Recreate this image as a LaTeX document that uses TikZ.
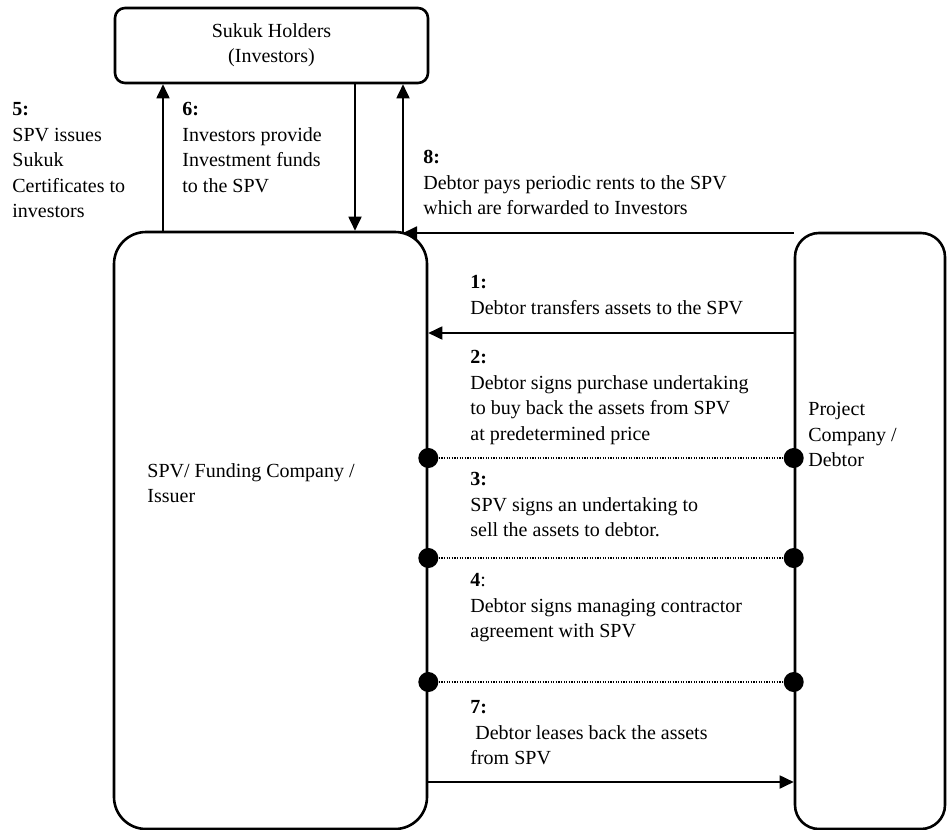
\documentclass[tikz,border=0pt]{standalone}
\usepackage{fontspec}
\setmainfont{Liberation Serif}
\usetikzlibrary{arrows.meta, positioning}

\begin{document}
\begin{tikzpicture}[x=0.5pt, y=-0.5pt,
    roundBox/.style={draw, line width=1.3pt, rounded corners=#1, inner sep=0pt},
    flowArrow/.style={line width=0.9pt, -{Triangle[length=7pt, width=6.5pt]}},
    stepText/.style={anchor=north west, align=left, inner sep=0pt,
      font=\fontsize{10}{12.8}\selectfont},
    dotLine/.style={line width=0.7pt, dash pattern=on 0.6pt off 0.7pt}]
    \useasboundingbox (0,0) rectangle (948,830);

    % cajas
    \node[roundBox=5pt, minimum width=156.5pt, minimum height=37.5pt, align=center,
      font=\fontsize{10}{12.5}\selectfont] (sukuk) at (271.5,45.5)
      {Sukuk Holders\\(Investors)};
    \node[roundBox=16pt, minimum width=156.5pt, minimum height=298.5pt] (spv) at (270.5,530.5) {};
    \node[roundBox=12pt, minimum width=75pt, minimum height=298pt] (proj) at (870,531) {};
    \node[stepText] (spvTxt) at (147,463) {SPV/ Funding Company /\\Issuer};
    \node[stepText] (projTxt) at (808,402) {Project\\Company /\\Debtor};

    % emision, fondos y rentas
    \coordinate (c5) at (163,0);
    \coordinate (c6) at (355,0);
    \coordinate (c8) at (403,233);
    \draw[flowArrow] (c5 |- spv.north) -- (c5 |- sukuk.south);
    \draw[flowArrow] (c6 |- sukuk.south) -- (c6 |- spv.north);
    \draw[flowArrow] (proj.west |- c8) -- (c8);
    \draw[flowArrow] (c8) -- (c8 |- sukuk.south);

    \node[stepText] (t5) at (12,102) {\textbf{5:}\\SPV issues\\Sukuk\\Certificates to\\investors};
    \node[stepText] (t6) at (182,102) {\textbf{6:}\\Investors provide\\Investment funds\\to the SPV};
    \node[stepText] (t8) at (423,150)
      {\textbf{8:}\\Debtor pays periodic rents to the SPV\\which are forwarded to Investors};

    % flujos entre deudor y SPV
    \coordinate (r1) at (0,333);
    \coordinate (r7) at (0,782);
    \draw[flowArrow] (proj.west |- r1) -- (spv.east |- r1);
    \draw[flowArrow] (spv.east |- r7) -- (proj.west |- r7);

    \foreach \y [count=\i] in {458,558,682} {
      \coordinate (d\i) at (0,\y);
      \draw[dotLine] (spv.east |- d\i) -- (proj.west |- d\i);
      \fill (spv.east |- d\i) circle[radius=5pt];
      \fill (proj.west |- d\i) circle[radius=5pt];
    }

    \node[stepText] (t1) at (470,275) {\textbf{1:}\\Debtor transfers assets to the SPV};
    \node[stepText] (t2) at (470,350)
      {\textbf{2:}\\Debtor signs purchase undertaking\\to buy back the assets from SPV\\at predetermined price};
    \node[stepText] (t3) at (470,472) {\textbf{3:}\\SPV signs an undertaking to\\sell the assets to debtor.};
    \node[stepText] (t4) at (470,573) {\textbf{4}:\\Debtor signs managing contractor\\agreement with SPV};
    \node[stepText] (t7) at (470,700) {\textbf{7:}\\\ Debtor leases back the assets\\from SPV};
\end{tikzpicture}
\end{document}
